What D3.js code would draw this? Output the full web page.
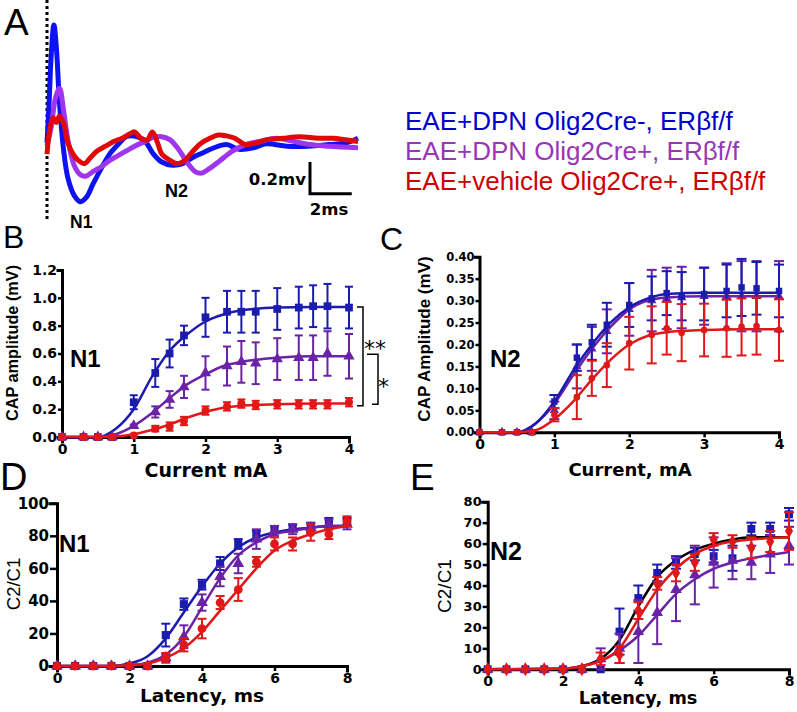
<!DOCTYPE html>
<html>
<head>
<meta charset="utf-8">
<script src="https://cdn.jsdelivr.net/npm/d3@7"></script>
<style>
  body { margin: 0; background: #fff; }
  svg { display: block; }
</style>
</head>
<body>
<div id="figure"></div>
<script>
// ---------- data ----------
var legendLabels = ["EAE+DPN Olig2Cre-, ERβf/f", "EAE+DPN Olig2Cre+, ERβf/f", "EAE+vehicle Olig2Cre+, ERβf/f"];

// panel A: averaged CAP traces (time in ms, voltage in mV)
var blueTraceT = [0, 0.1, 0.2, 0.33, 0.45, 0.6, 0.8, 1.0, 1.3, 1.6, 1.9, 2.2, 2.6, 3.0, 3.4, 3.8, 4.3, 4.7, 5.1, 5.5, 6.0, 6.5, 7.0, 7.5, 8.0, 8.6, 9.2, 9.9, 10.5, 11.5, 12.5, 13.5, 14.3, 14.9];
var blueTraceV = [0.0, 0.25, 0.55, 0.745, 0.6, 0.25, -0.05, -0.22, -0.33, -0.37, -0.34, -0.26, -0.16, -0.07, -0.01, 0.04, 0.04, 0.01, -0.07, -0.12, -0.14, -0.13, -0.09, -0.06, -0.03, -0.01, -0.04, -0.03, -0.005, -0.02, -0.02, -0.01, 0.0, 0.03];
var purpleTraceT = [0, 0.2, 0.4, 0.6, 0.8, 1.0, 1.3, 1.6, 1.85, 2.2, 2.6, 3.0, 3.4, 3.8, 4.2, 4.7, 5.1, 5.5, 5.9, 6.3, 6.7, 7.1, 7.4, 7.8, 8.3, 8.9, 9.5, 10.2, 11.0, 11.8, 12.6, 13.5, 14.9];
var purpleTraceV = [-0.02, 0.1, 0.28, 0.345, 0.2, 0.02, -0.14, -0.2, -0.21, -0.18, -0.15, -0.11, -0.08, -0.05, -0.02, 0.01, 0.035, 0.04, 0.02, -0.04, -0.12, -0.18, -0.19, -0.16, -0.11, -0.05, -0.01, 0.01, 0.03, 0.01, -0.01, -0.02, -0.03];
var redTraceT = [0, 0.15, 0.3, 0.45, 0.6, 0.8, 1.0, 1.3, 1.6, 1.8, 2.1, 2.4, 2.8, 3.2, 3.6, 4.0, 4.2, 4.5, 4.8, 5.05, 5.3, 5.5, 5.9, 6.2, 6.6, 7.0, 7.4, 7.8, 8.2, 8.6, 9.0, 9.5, 10.0, 10.5, 11.3, 12.1, 13.0, 13.7, 14.3, 14.9];
var redTraceV = [-0.07, 0.1, 0.16, 0.13, 0.17, 0.12, 0.0, -0.08, -0.12, -0.13, -0.09, -0.05, -0.02, 0.01, 0.03, 0.06, 0.07, 0.03, 0.02, 0.07, 0.0, -0.07, -0.11, -0.13, -0.11, -0.05, 0.0, 0.03, 0.05, 0.045, 0.03, -0.01, 0.0, 0.02, 0.03, 0.04, 0.03, 0.03, 0.02, 0.01];

// panels B and C: stimulus current (mA)
var currentMA = [0, 0.3, 0.5, 0.7, 1, 1.3, 1.5, 1.7, 2, 2.3, 2.5, 2.7, 3, 3.3, 3.5, 3.7, 4];
var n1AmpBlue = [0, 0, 0, 0, 0.25, 0.46, 0.60, 0.73, 0.86, 0.90, 0.90, 0.90, 0.92, 0.93, 0.94, 0.94, 0.93];
var n1AmpBlueErr = [0, 0, 0, 0, 0.05, 0.10, 0.10, 0.07, 0.14, 0.15, 0.15, 0.15, 0.15, 0.15, 0.15, 0.16, 0.15];
var n1AmpPurple = [0, 0, 0, 0, 0.08, 0.18, 0.27, 0.36, 0.46, 0.51, 0.54, 0.53, 0.56, 0.57, 0.57, 0.60, 0.58];
var n1AmpPurpleErr = [0, 0, 0, 0, 0.01, 0.04, 0.06, 0.08, 0.12, 0.14, 0.15, 0.15, 0.15, 0.16, 0.16, 0.16, 0.16];
var n1AmpRed = [0, 0, 0, 0, 0.01, 0.06, 0.075, 0.115, 0.19, 0.22, 0.24, 0.23, 0.235, 0.235, 0.235, 0.235, 0.25];
var n1AmpRedErr = [0, 0, 0, 0, 0, 0.02, 0.03, 0.03, 0.03, 0.03, 0.03, 0.03, 0.03, 0.03, 0.03, 0.03, 0.03];

var currentFitX = [0, 0.5, 0.75, 1, 1.25, 1.5, 1.75, 2, 2.25, 2.5, 3, 3.5, 4];
var n1FitBlue = [0, 0, 0.06, 0.2, 0.43, 0.62, 0.74, 0.83, 0.88, 0.91, 0.93, 0.935, 0.935];
var n1FitPurple = [0, 0, 0.02, 0.08, 0.17, 0.28, 0.38, 0.45, 0.51, 0.54, 0.57, 0.58, 0.58];
var n1FitRed = [0, 0, 0.005, 0.02, 0.05, 0.09, 0.14, 0.18, 0.21, 0.225, 0.235, 0.24, 0.24];

var n2AmpBlue = [0, 0, 0, 0, 0.07, 0.17, 0.205, 0.245, 0.29, 0.305, 0.317, 0.31, 0.315, 0.322, 0.33, 0.328, 0.322];
var n2AmpBlueErr = [0, 0, 0, 0, 0.015, 0.03, 0.04, 0.05, 0.05, 0.05, 0.05, 0.055, 0.06, 0.06, 0.065, 0.06, 0.06];
var n2AmpPurple = [0, 0, 0, 0, 0.05, 0.15, 0.19, 0.23, 0.28, 0.30, 0.305, 0.307, 0.31, 0.31, 0.31, 0.31, 0.31];
var n2AmpPurpleErr = [0, 0, 0, 0, 0.02, 0.05, 0.05, 0.05, 0.06, 0.07, 0.07, 0.07, 0.065, 0.075, 0.08, 0.08, 0.08];
var n2AmpRed = [0, 0, 0, 0, 0.04, 0.08, 0.123, 0.153, 0.203, 0.222, 0.237, 0.227, 0.233, 0.237, 0.24, 0.242, 0.233];
var n2AmpRedErr = [0, 0, 0, 0, 0.015, 0.05, 0.04, 0.05, 0.06, 0.065, 0.06, 0.065, 0.06, 0.065, 0.065, 0.065, 0.07];
var n2FitBlue = [0, 0, 0.02, 0.07, 0.14, 0.2, 0.25, 0.285, 0.305, 0.315, 0.318, 0.318, 0.318];
var n2FitPurple = [0, 0, 0.02, 0.065, 0.13, 0.19, 0.24, 0.28, 0.3, 0.307, 0.31, 0.31, 0.31];
var n2FitRed = [0, 0, 0.005, 0.03, 0.07, 0.12, 0.165, 0.2, 0.22, 0.228, 0.233, 0.235, 0.235];

// panels D and E: interstimulus latency (ms)
var latencyMs = [0, 0.5, 1, 1.5, 2, 2.5, 3, 3.5, 4, 4.5, 5, 5.5, 6, 6.5, 7, 7.5, 8];
var n1RatioBlue = [0, 0, 0, 0, 0, 0, 19, 38, 50, 63, 75, 80, 84, 85, 85, 88, 89];
var n1RatioBlueErr = [0, 0, 0, 0, 0, 0, 7, 3.5, 3, 4, 3, 3, 2, 2, 3, 3, 2];
var n1RatioPurple = [0, 0, 0, 0, 0, 0, 5, 18, 39, 55, 63, 78, 83, 84, 85, 87, 87];
var n1RatioPurpleErr = [0, 0, 0, 0, 0, 0, 2, 7, 5, 6, 6, 6, 3, 3, 3, 3, 3];
var n1RatioRed = [0, 0, 0, 0, 0, 0, 5, 13, 23, 39, 47, 64, 75, 75, 82, 81, 89];
var n1RatioRedErr = [0, 0, 0, 0, 0, 0, 3, 4, 6, 4, 7, 3, 4, 4, 5, 3, 3];

var latencyFitX = [0, 1.5, 2, 2.5, 3, 3.5, 4, 4.5, 5, 5.5, 6, 6.5, 7, 7.5, 8];
var n1RatioFitBlue = [0, 0, 1.5, 6, 17, 33, 49, 63, 73, 79, 82, 84, 85, 86, 86];
var n1RatioFitPurple = [0, 0, 0.5, 2, 7, 18, 36, 54, 68, 76, 81, 83, 85, 86, 86];
var n1RatioFitRed = [0, 0, 0.5, 1.5, 5, 11, 21, 34, 47, 60, 71, 77, 81, 84, 86];

var n2RatioBlue = [0, 0, 0, 0, 0, 0, 0, 18, 34, 46, 51, 55, 54, 53, 67, 67, 74];
var n2RatioBlueErr = [0, 0, 0, 0, 0, 0, 0, 11, 6, 4, 3, 3, 3, 6, 3, 3, 3];
var n2RatioPurple = [0, 0, 0, 0, 0, 0, 5, 10, 18, 27, 38, 45, 51, 52, 51, 55, 59];
var n2RatioPurpleErr = [0, 0, 0, 0, 0, 0, 5, 7, 15, 15, 15, 14, 12, 9, 8, 9, 9];
var n2RatioRed = [0, 0, 0, 0, 0, 0, 5, 7, 28, 41, 46, 51, 62, 61, 58, 61, 66];
var n2RatioRedErr = [0, 0, 0, 0, 0, 0, 3, 4, 4, 3, 4, 4, 3, 3, 5, 5, 9];

var latencyFitX2 = [0, 2, 2.5, 3, 3.5, 4, 4.5, 5, 5.5, 6, 6.5, 7, 8];
var n2RatioFitBlue = [0, 0.3, 1.5, 5, 14, 30, 44, 52, 57, 60, 62, 63, 63];
var n2RatioFitPurple = [0, 0.3, 1.5, 4, 9, 16, 26, 36, 43, 48, 51, 53, 56];
var n2RatioFitRed = [0, 0.3, 1.5, 4, 10, 24, 38, 48, 55, 59, 61, 62, 63];

// ---------- styles ----------
var arial = "'Liberation Sans', Arial, sans-serif";
var dejavu = "'DejaVu Sans', sans-serif";
var blue = "#1b1bb0", purple = "#6a22a6", red = "#e01818";
var traceColors = ["#0c12f2", "#a035f0", "#e00808"];
var legendColors = ["#0000cc", "#9a35b5", "#cc0000"];

var svg = d3.select("#figure").append("svg")
  .attr("width", 797)
  .attr("height", 712);

function addText(str, x, y, opts) {
  var t = svg.append("text")
    .attr("transform", opts.rotate ? `translate(${x},${y}) rotate(-90)` : `translate(${x},${y})`)
    .attr("font-family", opts.family || arial)
    .attr("font-size", opts.size)
    .attr("font-weight", opts.bold ? "bold" : "normal")
    .attr("text-anchor", opts.anchor || "start")
    .attr("fill", opts.color || "#000")
    .text(str);
  return t;
}

// ---------- panel A ----------
var tScale = d3.scaleLinear().domain([0, 14.9]).range([47, 358]);
var vScale = d3.scaleLinear().domain([0, 0.2]).range([143, 111.3]);

svg.append("line")
  .attr("x1", tScale(0)).attr("x2", tScale(0))
  .attr("y1", 0).attr("y2", 221)
  .attr("stroke", "#000").attr("stroke-width", 3)
  .attr("stroke-dasharray", "3,3");

var traceLine = d3.line()
  .x(d => tScale(d[0]))
  .y(d => vScale(d[1]))
  .curve(d3.curveCatmullRom);

[[blueTraceT, blueTraceV], [purpleTraceT, purpleTraceV], [redTraceT, redTraceV]].forEach(function(tr, i) {
  svg.append("path")
    .datum(d3.zip(tr[0], tr[1]))
    .attr("d", traceLine)
    .attr("fill", "none")
    .attr("stroke", traceColors[i])
    .attr("stroke-width", 5)
    .attr("stroke-linejoin", "round");
});

// scale bar: 0.2 mV / 2 ms
var barT0 = 12.6, barV0 = -0.32;
svg.append("path")
  .attr("d", `M${tScale(barT0)},${vScale(barV0 + 0.2)}V${vScale(barV0)}H${tScale(barT0 + 2)}`)
  .attr("fill", "none").attr("stroke", "#000").attr("stroke-width", 3);
addText("0.2mv", 306, 185, {size: 16.5, bold: true, family: dejavu, anchor: "end"});
addText("2ms", 329, 215, {size: 16.5, bold: true, family: dejavu, anchor: "middle"});
addText("N1", 70, 228, {size: 17.5, bold: true});
addText("N2", 165, 197, {size: 18, bold: true});
addText("A", 4, 35, {size: 37});

legendLabels.forEach(function(lab, i) {
  addText(lab, 405, 130 + i * 30, {size: 26, color: legendColors[i]});
});

// ---------- panels B-E ----------
function drawPanel(p) {
  var x = d3.scaleLinear().domain(p.xDomain).range(p.xRange);
  var y = d3.scaleLinear().domain(p.yDomain).range(p.yRange);
  var g = svg.append("g");

  var xAxis = g.append("g")
    .attr("transform", `translate(0,${p.yRange[0]})`)
    .call(d3.axisBottom(x).tickValues(p.xTicks).tickFormat(d3.format("d"))
      .tickSizeOuter(0).tickSize(5).tickPadding(2));
  var yAxis = g.append("g")
    .attr("transform", `translate(${p.xRange[0]},0)`)
    .call(d3.axisLeft(y).tickValues(p.yTicks).tickFormat(d3.format(p.yFormat))
      .tickSizeOuter(0).tickSize(p.yTickLen).tickPadding(1));

  [xAxis, yAxis].forEach(function(a) {
    a.select(".domain").attr("stroke-width", 3).attr("stroke-linecap", "square");
    a.selectAll(".tick line").attr("stroke-width", 2.5);
    a.selectAll(".tick text")
      .attr("font-family", dejavu)
      .attr("font-weight", "bold")
      .attr("fill", "#000");
  });
  xAxis.selectAll(".tick text").attr("font-size", p.xTickSize);
  yAxis.selectAll(".tick text").attr("font-size", p.yTickSize);

  var line = d3.line()
    .x(d => x(d[0]))
    .y(d => y(d[1]))
    .curve(d3.curveMonotoneX);

  p.series.forEach(function(s) {
    g.append("path")
      .datum(d3.zip(s.fitX, s.fitY))
      .attr("d", line)
      .attr("fill", "none")
      .attr("stroke", s.fitColor || s.color)
      .attr("stroke-width", 2.5);

    var pts = s.x.map((v, i) => ({x: v, y: s.y[i], e: s.err[i]}));
    var bars = g.append("g")
      .attr("stroke", s.color)
      .attr("stroke-width", 2)
      .selectAll("g")
      .data(pts.filter(d => d.e > 0))
      .enter()
      .append("g");
    bars.append("line")
      .attr("x1", d => x(d.x)).attr("x2", d => x(d.x))
      .attr("y1", d => y(d.y + d.e)).attr("y2", d => y(d.y - d.e));
    bars.append("line")
      .attr("x1", d => x(d.x) - p.cap).attr("x2", d => x(d.x) + p.cap)
      .attr("y1", d => y(d.y + d.e)).attr("y2", d => y(d.y + d.e));
    bars.append("line")
      .attr("x1", d => x(d.x) - p.cap).attr("x2", d => x(d.x) + p.cap)
      .attr("y1", d => y(d.y - d.e)).attr("y2", d => y(d.y - d.e));

    g.append("g")
      .selectAll("path")
      .data(pts)
      .enter()
      .append("path")
      .attr("transform", d => `translate(${x(d.x)},${y(d.y)})`)
      .attr("d", d3.symbol().type(s.symbol).size(s.size * p.markerScale))
      .attr("fill", s.color);
  });
  return {x: x, y: y};
}

// B: N1 amplitude vs current
var panelB = drawPanel({
  xDomain: [0, 4], xRange: [62, 349], xTicks: [0, 1, 2, 3, 4], xTickSize: 14,
  yDomain: [0, 1.2], yRange: [437, 270], yTicks: d3.range(0, 1.21, 0.2), yFormat: ".1f",
  yTickSize: 14, yTickLen: 4, cap: 4, markerScale: 1,
  series: [
    {x: currentMA, y: n1AmpBlue, err: n1AmpBlueErr, fitX: currentFitX, fitY: n1FitBlue, color: blue, symbol: d3.symbolSquare, size: 60},
    {x: currentMA, y: n1AmpPurple, err: n1AmpPurpleErr, fitX: currentFitX, fitY: n1FitPurple, color: purple, symbol: d3.symbolTriangle, size: 55},
    {x: currentMA, y: n1AmpRed, err: n1AmpRedErr, fitX: currentFitX, fitY: n1FitRed, color: red, symbol: d3.symbolCircle, size: 50}
  ]
});

// significance brackets in B
svg.append("path")
  .attr("d", `M357,${panelB.y(0.935)}H363V${panelB.y(0.225)}H357`)
  .attr("fill", "none").attr("stroke", "#000").attr("stroke-width", 1.5);
svg.append("path")
  .attr("d", `M367,${panelB.y(0.595)}H378V${panelB.y(0.235)}H372`)
  .attr("fill", "none").attr("stroke", "#000").attr("stroke-width", 1.5);
addText("**", 364, 356, {size: 22, family: dejavu});
addText("*", 378, 394, {size: 22, family: dejavu});

// C: N2 amplitude vs current
drawPanel({
  xDomain: [0, 4], xRange: [479.5, 779], xTicks: [0, 1, 2, 3, 4], xTickSize: 14,
  yDomain: [0, 0.4], yRange: [432.3, 256.7], yTicks: d3.range(0, 0.401, 0.05), yFormat: ".2f",
  yTickSize: 11.5, yTickLen: 4, cap: 5, markerScale: 0.7,
  series: [
    {x: currentMA, y: n2AmpPurple, err: n2AmpPurpleErr, fitX: currentFitX, fitY: n2FitPurple, color: purple, symbol: d3.symbolTriangle, size: 55},
    {x: currentMA, y: n2AmpBlue, err: n2AmpBlueErr, fitX: currentFitX, fitY: n2FitBlue, color: blue, symbol: d3.symbolSquare, size: 60},
    {x: currentMA, y: n2AmpRed, err: n2AmpRedErr, fitX: currentFitX, fitY: n2FitRed, color: red, symbol: d3.symbolCircle, size: 50}
  ]
});

// D: N1 C2/C1 vs latency
drawPanel({
  xDomain: [0, 8], xRange: [57, 347], xTicks: [0, 2, 4, 6, 8], xTickSize: 14,
  yDomain: [0, 100], yRange: [666, 503.3], yTicks: d3.range(0, 101, 20), yFormat: "d",
  yTickSize: 15, yTickLen: 7, cap: 4.5, markerScale: 1.1,
  series: [
    {x: latencyMs, y: n1RatioBlue, err: n1RatioBlueErr, fitX: latencyFitX, fitY: n1RatioFitBlue, color: blue, symbol: d3.symbolSquare, size: 60},
    {x: latencyMs, y: n1RatioPurple, err: n1RatioPurpleErr, fitX: latencyFitX, fitY: n1RatioFitPurple, color: purple, symbol: d3.symbolTriangle, size: 55},
    {x: latencyMs, y: n1RatioRed, err: n1RatioRedErr, fitX: latencyFitX, fitY: n1RatioFitRed, color: red, symbol: d3.symbolCircle, size: 55}
  ]
});

// E: N2 C2/C1 vs latency
drawPanel({
  xDomain: [0, 8], xRange: [487.7, 789], xTicks: [0, 2, 4, 6, 8], xTickSize: 14,
  yDomain: [0, 80], yRange: [669.3, 501.7], yTicks: d3.range(0, 81, 10), yFormat: "d",
  yTickSize: 13, yTickLen: 5, cap: 5, markerScale: 1.05,
  series: [
    {x: latencyMs, y: n2RatioBlue, err: n2RatioBlueErr, fitX: latencyFitX2, fitY: n2RatioFitBlue, color: blue, fitColor: "#000", symbol: d3.symbolSquare, size: 60},
    {x: latencyMs, y: n2RatioPurple, err: n2RatioPurpleErr, fitX: latencyFitX2, fitY: n2RatioFitPurple, color: purple, symbol: d3.symbolTriangle, size: 55},
    {x: latencyMs, y: n2RatioRed, err: n2RatioRedErr, fitX: latencyFitX2, fitY: n2RatioFitRed, color: red, symbol: d3.symbolDiamond, size: 55}
  ]
});

// ---------- titles and labels ----------
addText("B", 3, 248, {size: 32});
addText("C", 380, 250, {size: 32});
addText("D", 0, 490, {size: 38});
addText("E", 410, 490, {size: 37});

addText("CAP amplitude (mV)", 18, 343, {size: 16.3, bold: true, rotate: true, anchor: "middle"});
addText("CAP Amplitude (mV)", 430, 339, {size: 17, bold: true, rotate: true, anchor: "middle"});
addText("C2/C1", 20, 584, {size: 18.5, rotate: true, anchor: "middle"});
addText("C2/C1", 451, 586, {size: 19, rotate: true, anchor: "middle"});

addText("Current mA", 206, 477, {size: 19, bold: true, family: dejavu, anchor: "middle"});
addText("Current, mA", 630, 476, {size: 18, bold: true, family: dejavu, anchor: "middle"});
addText("Latency, ms", 202, 702, {size: 18.5, bold: true, family: dejavu, anchor: "middle"});
addText("Latency, ms", 638, 704, {size: 17.7, bold: true, family: dejavu, anchor: "middle"});

addText("N1", 70, 367, {size: 24, bold: true});
addText("N2", 490, 367, {size: 24, bold: true});
addText("N1", 59, 552, {size: 24, bold: true});
addText("N2", 490, 560, {size: 25, bold: true});
</script>
</body>
</html>
